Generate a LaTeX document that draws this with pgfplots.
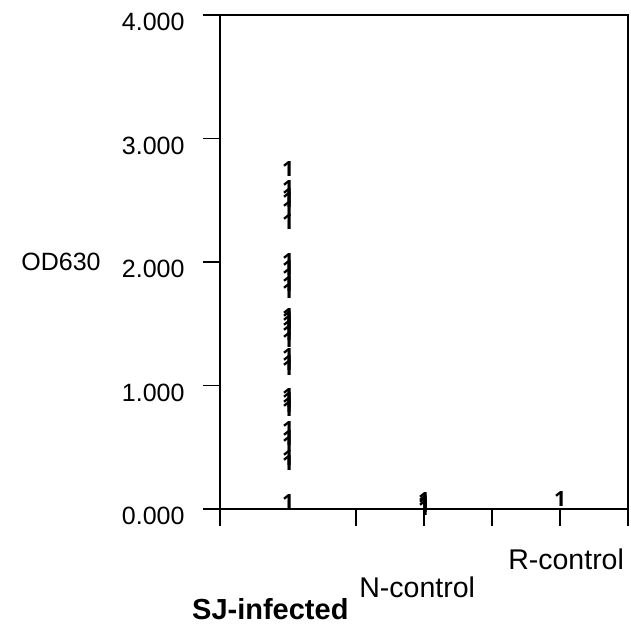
\documentclass[border=0pt]{standalone}
\usepackage{fontspec}
\setmainfont{Liberation Sans}
\newfontfamily\onefont{Open Sans}
\usepackage{graphicx}
\usepackage{pgfplots}
\pgfplotsset{compat=1.18}

\begin{document}
\begin{tikzpicture}
\begin{axis}[
    scale only axis,
    width=408bp, height=494bp,
    xmin=0, xmax=6, ymin=0, ymax=4,
    clip=false,
    axis line style={line width=1.6bp},
    xtick={0,2,3,4,5,6}, xticklabels={},
    ytick={0,1,2,3,4},
    yticklabels={0.000,1.000,2.000,3.000,4.000},
    tick align=outside, xtick pos=bottom, ytick pos=left,
    major tick length=17bp,
    every tick/.style={black, line width=1.6bp},
    yticklabel style={font=\fontsize{25bp}{30bp}\selectfont, xshift=-15bp, yshift=-7bp},
    oneglyph/.style={only marks, mark=text,
        text mark={\resizebox{!}{15bp}{\onefont\bfseries 1}}},
]

% OD readings, one "1" per sample
\addplot[oneglyph] coordinates {
    (1,2.753) (1,2.599) (1,2.534) (1,2.502) (1,2.429) (1,2.324)
    (1,2.008) (1,1.951) (1,1.887) (1,1.822) (1,1.765)
    (1,1.563) (1,1.538) (1,1.506) (1,1.466) (1,1.425) (1,1.368)
    (1,1.239) (1,1.182) (1,1.142)
    (1,0.915) (1,0.883) (1,0.842) (1,0.810)
    (1,0.648) (1,0.575) (1,0.526) (1,0.413) (1,0.372)
    (1,0.057)
};
\addplot[oneglyph] coordinates {
    (3,0.07) (3,0.05) (3,0.03) (3,0.01)
};
\addplot[oneglyph] coordinates {
    (5,0.08)
};

\node[font=\fontsize{25bp}{30bp}\selectfont, xshift=-159bp] at (axis cs:0,2) {OD630};
\node[font=\fontsize{29bp}{34bp}\selectfont\bfseries, yshift=-100bp] at (axis cs:0.74,0) {SJ-infected};
\node[font=\fontsize{28.5bp}{34bp}\selectfont, yshift=-78bp] at (axis cs:2.90,0) {N-control};
\node[font=\fontsize{28.5bp}{34bp}\selectfont, yshift=-50bp] at (axis cs:5.09,0) {R-control};

\coordinate (sw) at (rel axis cs:0,0);
\coordinate (ne) at (rel axis cs:1,1);
\end{axis}
\pgfresetboundingbox
\path[use as bounding box] ([shift={(-220bp,-119bp)}]sw) rectangle ([shift={(3bp,15bp)}]ne);
\end{tikzpicture}
\end{document}
